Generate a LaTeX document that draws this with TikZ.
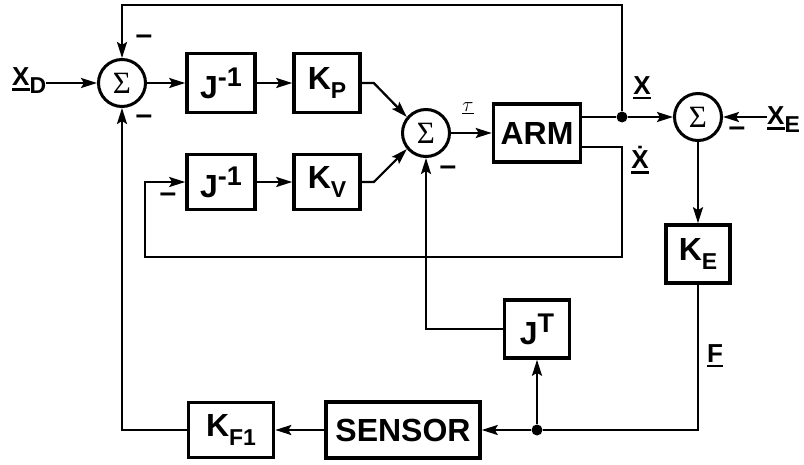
\documentclass[tikz,border=0pt]{standalone}
\usepackage{fontspec}
\setmainfont{Liberation Sans}
\newfontfamily\sigmafont{Liberation Serif}
\usetikzlibrary{arrows.meta}

% sub- and superscripts inside the blocks
\newcommand\lowtxt[1]{\raisebox{-0.3em}{\fontsize{23}{23}\selectfont #1}}
\newcommand\hightxt[1]{\raisebox{0.38em}{\fontsize{27}{27}\selectfont #1}}
% thick underline for the vector names
\newcommand\undr[1]{\setbox0\hbox{#1}\rlap{\raisebox{-5pt}{\rule{\wd0}{2.6pt}}}\box0}

\begin{document}
\begin{tikzpicture}[
    x=1pt, y=-1pt,
    % Node styles
    block/.style={
        rectangle,
        draw,
        line width=3.6pt,
        inner sep=0pt,
        font=\fontsize{32}{32}\selectfont\bfseries
    },
    sumnode/.style={
        circle,
        draw,
        line width=3pt,
        minimum size=47pt,
        inner sep=0pt,
        font=\fontsize{31}{31}\sigmafont
    },
    wire/.style={line width=2.2pt},
    arrow/.style={
        wire,
        -{Stealth[length=16pt, width=10pt, inset=3pt]}
    },
    dot/.style={circle, fill, inner sep=0pt, minimum size=11pt},
    sign/.style={font=\fontsize{30}{30}\selectfont\bfseries, inner sep=0pt},
    lbl/.style={font=\fontsize{26}{26}\selectfont\bfseries, inner sep=0pt}
]
\useasboundingbox (0,0) rectangle (804,465);

% ===== Upper rows =====

\node[sumnode] (s1) at (122,83) {Σ};
\node[lbl, anchor=base west] (xd) at (12,86) {\undr{X}\lowtxt{D}};

\node[block, minimum width=68pt, minimum height=59pt] (jinva) at (221,83) {J\hightxt{-1}};
\node[block, minimum width=66pt, minimum height=59pt] (kp) at (327,83) {K\lowtxt{P}};

\node[block, minimum width=68pt, minimum height=55pt] (jinvb) at (221,182) {J\hightxt{-1}};
\node[block, minimum width=66pt, minimum height=55pt] (kv) at (327,182) {K\lowtxt{V}};

\node[sumnode] (s2) at (426,133) {Σ};
\node[block, minimum width=87pt, minimum height=58pt] (arm) at (537,133) {ARM};

\node[dot] (da) at (622,117) {};
\node[sumnode] (s3) at (698,117) {Σ};
\node[lbl, anchor=base west] (xe) at (767,125) {\undr{X}\lowtxt{E}};

% ===== Force path =====

\node[block, minimum width=64pt, minimum height=58pt] (ke) at (698,254) {K\lowtxt{E}};
\node[block, minimum width=65pt, minimum height=58pt] (jt) at (537,329) {J\hightxt{T}};
\node[block, minimum width=154pt, minimum height=56pt] (sensor) at (403,430) {SENSOR};
\node[block, minimum width=85pt, minimum height=55pt] (kf) at (231,430) {K\lowtxt{F1}};
\node[dot] (db) at (537,430) {};

% corners of the feedback loops
\coordinate (ctop) at (622,5);
\coordinate (vr) at (622,257);
\coordinate (vl) at (145,257);

% ===== Connectors =====

\draw[arrow] (xd.east |- s1) -- (s1.west);
\draw[arrow] (s1) -- (jinva);
\draw[arrow] (jinva) -- (kp);
\draw[arrow] (jinvb) -- (kv);
\draw[arrow] (kp.east) -- ++(12,0) -- (s2.140);
\draw[arrow] (kv.east) -- ++(12,0) -- (s2.220);
\draw[arrow] (s2) -- (arm);

\draw[wire] (arm.east |- da) -- (da);
\draw[arrow] (da) -- (s3);
\draw[arrow] (da) -- (ctop) -| (s1.north);
\draw[arrow] ([yshift=-14pt]arm.east) -| (vr) -- (vl) |- (jinvb.west);

\draw[arrow] (xe.west |- s3) -- (s3.east);
\draw[arrow] (s3) -- (ke);
\draw[wire] (ke.south) |- (db);
\draw[arrow] (db) -- (sensor);
\draw[arrow] (db) -- (jt);
\draw[arrow] (jt.west) -| (s2.south);
\draw[arrow] (sensor) -- (kf);
\draw[arrow] (kf.west) -| (s1.south);

% ===== Labels and signs =====

\node[lbl] (xlbl) at (642,88) {\undr{X}};
\node[lbl] (xdotlbl) at (640,160) {\undr{\.{X}}};
\node[font=\fontsize{22}{22}\selectfont] (taulbl) at (468,108) {$\underline{\tau}$};
\node[lbl] (flbl) at (715,356) {\undr{F}};

\node[sign] (m1) at (144,40) {–};
\node[sign] (m2) at (144,120) {–};
\node[sign] (m3) at (168,198) {–};
\node[sign] (m4) at (448,171) {–};
\node[sign] (m5) at (737,132) {–};

\end{tikzpicture}
\end{document}
